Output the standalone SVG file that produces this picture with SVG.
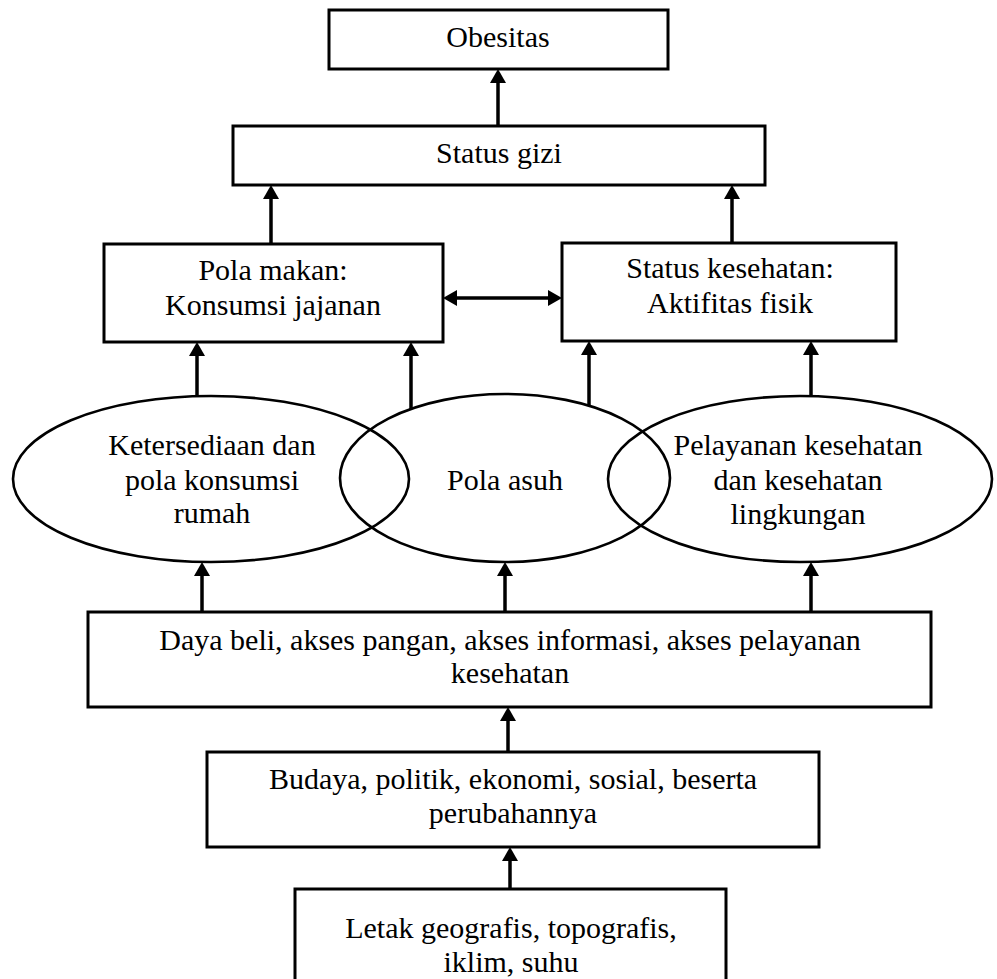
<svg xmlns="http://www.w3.org/2000/svg" width="997" height="979" viewBox="0 0 997 979">
<defs>
<style>
.box{fill:#fff;stroke:#000;stroke-width:3}
.ell{fill:none;stroke:#000;stroke-width:2.6}
.t{font-family:"Liberation Serif","Times New Roman",serif;font-size:30px;fill:#000;text-anchor:middle}
.c{stroke:#000;stroke-width:3.5;fill:none}
</style>
<marker id="ah" viewBox="0 0 14 16" refX="6" refY="8" markerWidth="14" markerHeight="16" markerUnits="userSpaceOnUse" orient="auto-start-reverse">
<path d="M0,0 L14,8 L0,16 z" fill="#000"/>
</marker>
</defs>
<rect width="997" height="979" fill="#fff"/>
<g id="n-obesitas"><rect class="box" x="329" y="10" width="339" height="59"/><text class="t" x="498" y="47">Obesitas</text></g>
<g id="n-statusgizi"><rect class="box" x="233" y="126" width="532" height="59"/><text class="t" x="499" y="163">Status gizi</text></g>
<g id="n-polamakan"><rect class="box" x="104" y="244" width="339" height="98"/><text class="t" x="273" y="280">Pola makan:</text><text class="t" x="273" y="315">Konsumsi jajanan</text></g>
<g id="n-statuskes"><rect class="box" x="562" y="243" width="334" height="98"/><text class="t" x="730" y="278">Status kesehatan:</text><text class="t" x="730" y="313">Aktifitas fisik</text></g>
<g id="n-ketersediaan"><ellipse class="ell" cx="211" cy="479" rx="198" ry="83"/><text class="t" x="212" y="455">Ketersediaan dan</text><text class="t" x="212" y="490">pola konsumsi</text><text class="t" x="212" y="523">rumah</text></g>
<g id="n-polaasuh"><ellipse class="ell" cx="505" cy="478" rx="165" ry="84"/><text class="t" x="505" y="490">Pola asuh</text></g>
<g id="n-pelayanan"><ellipse class="ell" cx="800" cy="479" rx="192" ry="83"/><text class="t" x="798" y="455">Pelayanan kesehatan</text><text class="t" x="798" y="490">dan kesehatan</text><text class="t" x="798" y="524">lingkungan</text></g>
<g id="n-dayabeli"><rect class="box" x="88" y="612" width="843" height="95"/><text class="t" x="510" y="650">Daya beli, akses pangan, akses informasi, akses pelayanan</text><text class="t" x="510" y="683">kesehatan</text></g>
<g id="n-budaya"><rect class="box" x="207" y="752" width="612" height="95"/><text class="t" x="513" y="789">Budaya, politik, ekonomi, sosial, beserta</text><text class="t" x="513" y="823">perubahannya</text></g>
<g id="n-letak"><rect class="box" x="295" y="889" width="431" height="100"/><text class="t" x="511" y="938">Letak geografis, topografis,</text><text class="t" x="511" y="972">iklim, suhu</text></g>
<g id="connectors">
<line class="c" x1="498" y1="126" x2="498" y2="77" marker-end="url(#ah)"/>
<line class="c" x1="271" y1="244" x2="271" y2="193" marker-end="url(#ah)"/>
<line class="c" x1="732" y1="243" x2="732" y2="193" marker-end="url(#ah)"/>
<line class="c" x1="451" y1="298" x2="554" y2="298" marker-start="url(#ah)" marker-end="url(#ah)"/>
<line class="c" x1="197" y1="396" x2="197" y2="350" marker-end="url(#ah)"/>
<line class="c" x1="411" y1="409" x2="411" y2="350" marker-end="url(#ah)"/>
<line class="c" x1="589" y1="406" x2="589" y2="349" marker-end="url(#ah)"/>
<line class="c" x1="811" y1="396" x2="811" y2="349" marker-end="url(#ah)"/>
<line class="c" x1="202" y1="612" x2="202" y2="570" marker-end="url(#ah)"/>
<line class="c" x1="505" y1="612" x2="505" y2="570" marker-end="url(#ah)"/>
<line class="c" x1="811" y1="612" x2="811" y2="570" marker-end="url(#ah)"/>
<line class="c" x1="508" y1="752" x2="508" y2="715" marker-end="url(#ah)"/>
<line class="c" x1="510" y1="889" x2="510" y2="855" marker-end="url(#ah)"/>
</g>
</svg>
